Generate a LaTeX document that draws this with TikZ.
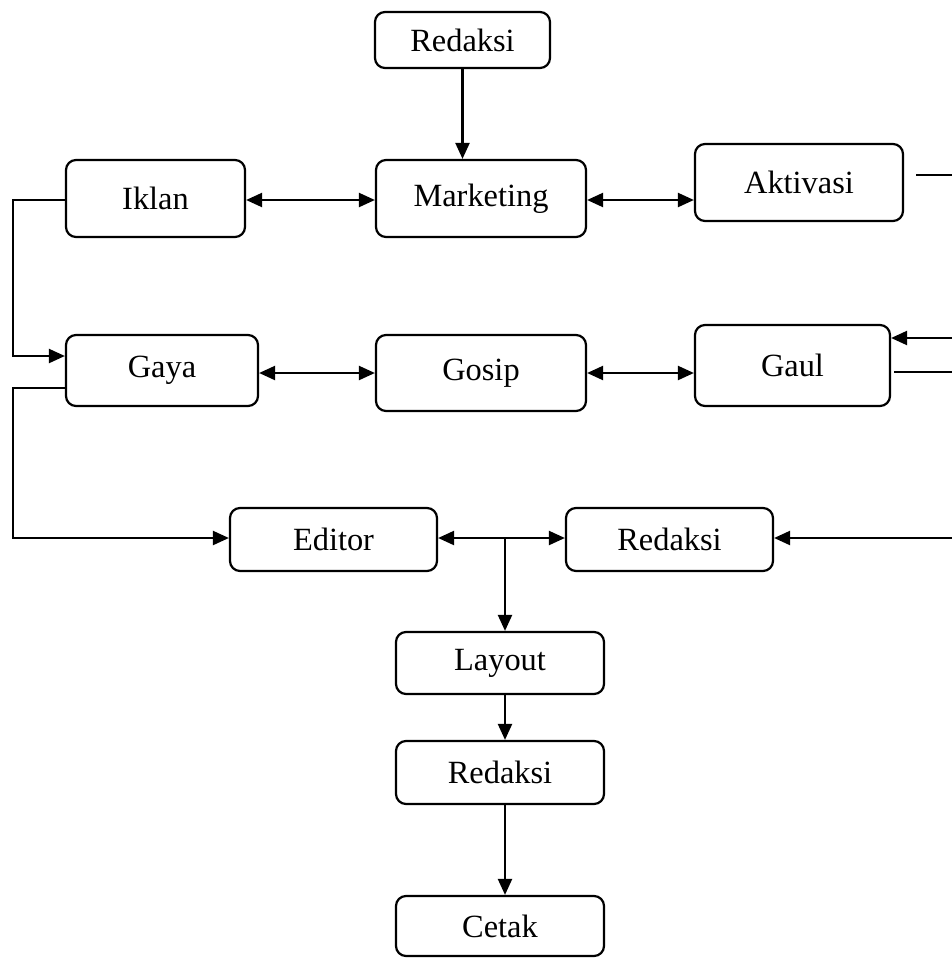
\documentclass[tikz,border=0pt]{standalone}
\usepackage{fontspec}
\setmainfont{Liberation Serif}
\usetikzlibrary{arrows.meta}
\tikzset{
  box/.style={draw, line width=1.1pt, rounded corners=5pt, inner sep=0pt,
              font=\fontsize{16.2}{19}\selectfont},
  link/.style={line width=1.1pt, -{Triangle[length=8pt,width=7pt]}},
  both/.style={line width=1.1pt, {Triangle[length=8pt,width=7pt]}-{Triangle[length=8pt,width=7pt]}},
  plain/.style={line width=1.1pt}
}
\begin{document}
\begin{tikzpicture}[x=0.5pt,y=-0.5pt]
  \useasboundingbox (0,0) rectangle (952,958);

  % the boxes
  \node[box, minimum width=87.5pt, minimum height=28pt]   (redTop)    at (462.5,40)  {Redaksi};
  \node[box, minimum width=89.5pt, minimum height=38.5pt] (iklan)     at (155.5,198.5) {Iklan};
  \node[box, minimum width=105pt,  minimum height=38.5pt] (marketing) at (481,198.5) {Marketing};
  \node[box, minimum width=104pt,  minimum height=38.5pt] (aktivasi)  at (799,182.5) {Aktivasi};
  \node[box, minimum width=96pt,   minimum height=35.5pt] (gaya)      at (162,370.5) {Gaya};
  \node[box, minimum width=105pt,  minimum height=38pt]   (gosip)     at (481,373)   {Gosip};
  \node[box, minimum width=97.5pt, minimum height=40.5pt] (gaul)      at (792.5,365.5) {Gaul};
  \node[box, minimum width=103.5pt,minimum height=31.5pt] (editor)    at (333.5,539.5) {Editor};
  \node[box, minimum width=103.5pt,minimum height=31.5pt] (redMid)    at (669.5,539.5) {Redaksi};
  \node[box, minimum width=104pt,  minimum height=31pt]   (layout)    at (500,663)   {Layout};
  \node[box, minimum width=104pt,  minimum height=31.5pt] (redLow)    at (500,772.5) {Redaksi};
  \node[box, minimum width=104pt,  minimum height=30pt]   (cetak)     at (500,926)   {Cetak};

  % free ends and bends
  \coordinate (akOut)  at (952,175);
  \coordinate (gaulIn) at (952,338);
  \coordinate (gaulOut) at (952,372);
  \coordinate (redIn)  at (952,538);
  \coordinate (jn)     at (505,538);

  % connectors
  \draw[link] (redTop) -- (redTop |- marketing.north);
  \draw[both] (iklan.east |- 0,200) -- (marketing.west |- 0,200);
  \draw[both] (marketing.east |- 0,200) -- (aktivasi.west |- 0,200);
  \draw[plain] (aktivasi.east |- akOut) ++(12,0) -- (akOut);
  \draw[both] (gaya.east |- gosip) -- (gosip);
  \draw[both] (gosip.east) -- (gaul.west |- gosip.east);
  \draw[link] (gaulIn) -- (gaul.east |- gaulIn);
  \draw[plain] (gaul.east |- gaulOut) ++(3,0) -- (gaulOut);
  \draw[link] (redIn) -- (redMid.east |- redIn);
  \draw[link] (iklan.west |- 0,200) -- (13,200) -- (13,356) -- (gaya.west |- 0,356);
  \draw[link] (gaya.west |- 0,388) -- (13,388) -- (13,538) -- (editor.west |- 0,538);
  \draw[both] (editor.east |- jn) -- (redMid.west |- jn);
  \draw[link] (jn) -- (layout.north -| jn);
  \draw[link] (layout.south -| jn) -- (redLow.north -| jn);
  \draw[link] (redLow.south -| jn) -- (cetak.north -| jn);
\end{tikzpicture}
\end{document}
